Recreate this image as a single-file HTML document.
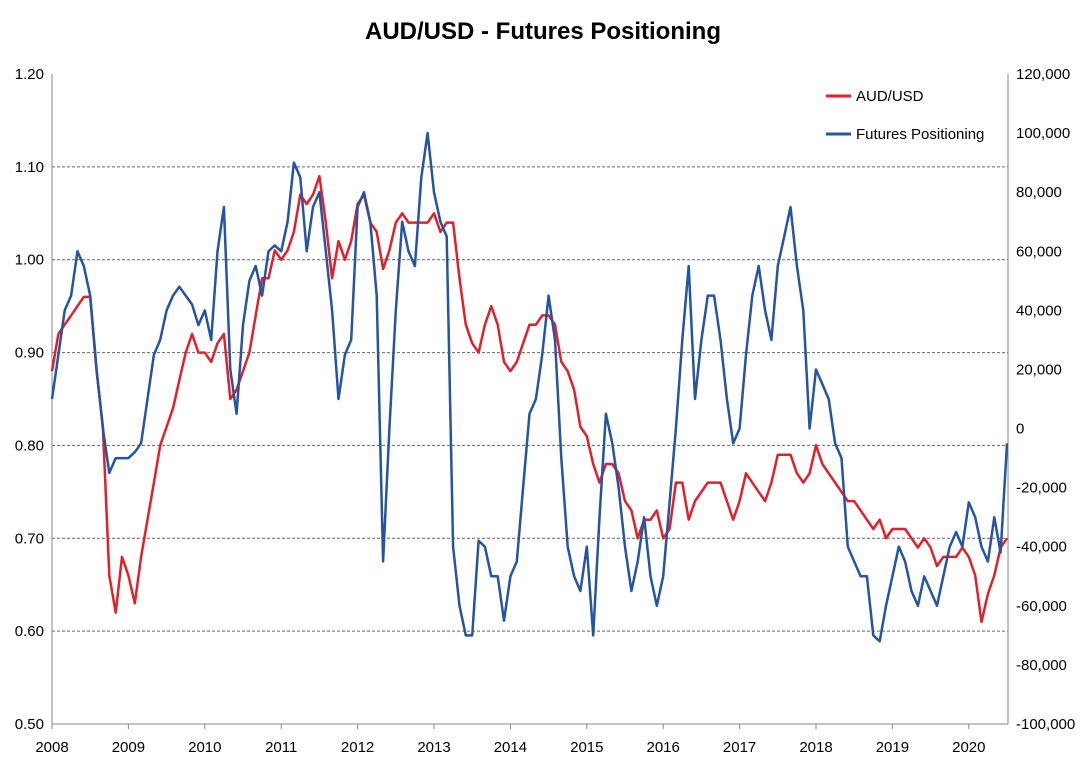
<!DOCTYPE html>
<html><head><meta charset="utf-8"><style>
body{margin:0;background:#fff;}
svg{font-family:"Liberation Sans",sans-serif;}
</style></head><body>
<svg id="chart" width="1087" height="761">
<text x="543" y="39" text-anchor="middle" font-size="24" font-weight="bold">AUD/USD - Futures Positioning</text>
<g id="grid"></g><g id="axes"></g><g id="series"></g>
<g>
<line x1="826" y1="96" x2="851" y2="96" stroke="#e0202c" stroke-width="3"/>
<text x="856" y="101" font-size="15">AUD/USD</text>
<line x1="826" y1="134" x2="851" y2="134" stroke="#2555a0" stroke-width="3"/>
<text x="856" y="139" font-size="15">Futures Positioning</text>
</g>
</svg>
<script>
const startYear = 2008;
const yearLabels = ["2008","2009","2010","2011","2012","2013","2014","2015","2016","2017","2018","2019","2020"];
const leftTicks = [0.5,0.6,0.7,0.8,0.9,1.0,1.1,1.2];
const rightTicks = [-100000,-80000,-60000,-40000,-20000,0,20000,40000,60000,80000,100000,120000];
const audusd = [
0.88,0.92,0.93,0.94,0.95,0.96,0.96,0.88,0.82,0.66,0.62,0.68,
0.66,0.63,0.68,0.72,0.76,0.80,0.82,0.84,0.87,0.90,0.92,0.90,
0.90,0.89,0.91,0.92,0.85,0.86,0.88,0.90,0.94,0.98,0.98,1.01,
1.00,1.01,1.03,1.07,1.06,1.07,1.09,1.04,0.98,1.02,1.00,1.02,
1.06,1.07,1.04,1.03,0.99,1.01,1.04,1.05,1.04,1.04,1.04,1.04,
1.05,1.03,1.04,1.04,0.98,0.93,0.91,0.90,0.93,0.95,0.93,0.89,
0.88,0.89,0.91,0.93,0.93,0.94,0.94,0.93,0.89,0.88,0.86,0.82,
0.81,0.78,0.76,0.78,0.78,0.77,0.74,0.73,0.70,0.72,0.72,0.73,
0.70,0.71,0.76,0.76,0.72,0.74,0.75,0.76,0.76,0.76,0.74,0.72,
0.74,0.77,0.76,0.75,0.74,0.76,0.79,0.79,0.79,0.77,0.76,0.77,
0.80,0.78,0.77,0.76,0.75,0.74,0.74,0.73,0.72,0.71,0.72,0.70,
0.71,0.71,0.71,0.70,0.69,0.70,0.69,0.67,0.68,0.68,0.68,0.69,
0.68,0.66,0.61,0.64,0.66,0.69,0.70];
const futures = [
10,25,40,45,60,55,45,20,0,-15,-10,-10,
-10,-8,-5,10,25,30,40,45,48,45,42,35,
40,30,60,75,20,5,35,50,55,45,60,62,
60,70,90,85,60,75,80,60,40,10,25,30,
75,80,70,45,-45,0,40,70,60,55,85,100,
80,70,65,-40,-60,-70,-70,-38,-40,-50,-50,-65,
-50,-45,-20,5,10,25,45,30,-10,-40,-50,-55,
-40,-70,-30,5,-5,-20,-40,-55,-45,-30,-50,-60,
-50,-25,0,30,55,10,30,45,45,30,10,-5,
0,25,45,55,40,30,55,65,75,55,40,0,
20,15,10,-5,-10,-40,-45,-50,-50,-70,-72,-60,
-50,-40,-45,-55,-60,-50,-55,-60,-50,-40,-35,-40,
-25,-30,-40,-45,-30,-42,-5].map(v=>v*1000);

const NS="http://www.w3.org/2000/svg";
const X0=52,X1=1008,YT=74,YB=724;
const xPos=t=>X0+(t-startYear)*76.4;
const yL=v=>YB-(v-0.5)/0.7*(YB-YT);
const yR=v=>YB-(v+100000)/220000*(YB-YT);
function mk(tag,attrs,parent){const e=document.createElementNS(NS,tag);for(const k in attrs)e.setAttribute(k,attrs[k]);parent.appendChild(e);return e;}
const grid=document.getElementById('grid'),axes=document.getElementById('axes'),series=document.getElementById('series');
leftTicks.forEach(v=>{
  const y=yL(v);
  if(v>0.5&&v<1.2){const g=mk('line',{x1:X0,x2:X1,y1:y,y2:y,stroke:'#666','stroke-dasharray':'3,2','stroke-width':1},grid);
  
  }
  const t=mk('text',{x:X0-8,y:y+5,'text-anchor':'end','font-size':15},axes);t.textContent=v.toFixed(2);
  
  
});
rightTicks.forEach(v=>{
  const t=mk('text',{x:1016,y:yR(v)+5,'font-size':15},axes);t.textContent=v.toLocaleString('en-US');
  
  
});
yearLabels.forEach(l=>{
  const x=xPos(+l);
  const t=mk('text',{x:x,y:752,'text-anchor':'middle','font-size':15},axes);t.textContent=l;
  
  
  mk('line',{x1:x,x2:x,y1:YB,y2:YB+5,stroke:'#888'},axes);
});
[[X0,YT,X0,YB],[X1,YT,X1,YB],[X0,YB,X1,YB]].forEach(a=>mk('line',{x1:a[0],y1:a[1],x2:a[2],y2:a[3],stroke:'#888'},axes));
function line(vals,yf,color,name){
  const pts=vals.map((v,i)=>xPos(startYear+i/12).toFixed(1)+','+yf(v).toFixed(1)).join(' ');
  const p=mk('polyline',{points:pts,fill:'none',stroke:color,'stroke-width':2.5,'stroke-linejoin':'round'},series);
  
  
}
line(audusd,yL,'#e0202c','audusd-line');
line(futures,yR,'#2555a0','futures-positioning-line');
</script>
</body></html>
